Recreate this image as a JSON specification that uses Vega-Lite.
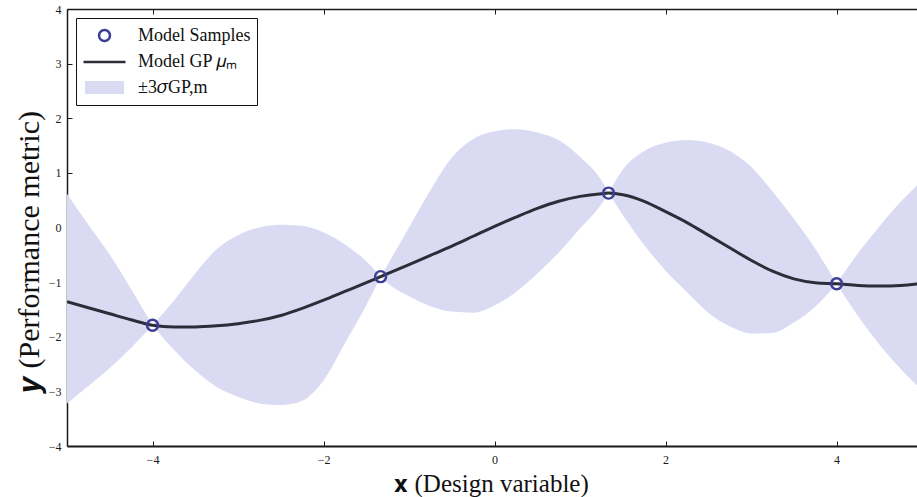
{
  "$schema": "https://vega.github.io/schema/vega-lite/v6.json",
  "width": 850,
  "height": 437,
  "autosize": {"type": "none"},
  "padding": {"left": 67, "top": 9, "right": 0, "bottom": 51},
  "background": "white",
  "datasets": {
    "band": [
      {"seg": "L", "x": -5, "lo": -3.22, "hi": 0.62},
      {"seg": "L", "x": -4.75, "lo": -2.90, "hi": 0.05},
      {"seg": "L", "x": -4.5, "lo": -2.57, "hi": -0.50},
      {"seg": "L", "x": -4.25, "lo": -2.20, "hi": -1.13},
      {"seg": "L", "x": -4, "lo": -1.79, "hi": -1.79},
      {"seg": "A", "x": -4, "lo": -1.79, "hi": -1.79},
      {"seg": "A", "x": -3.75, "lo": -2.24, "hi": -1.34},
      {"seg": "A", "x": -3.5, "lo": -2.62, "hi": -0.84},
      {"seg": "A", "x": -3.25, "lo": -2.92, "hi": -0.40},
      {"seg": "A", "x": -3, "lo": -3.10, "hi": -0.14},
      {"seg": "A", "x": -2.75, "lo": -3.22, "hi": 0.00},
      {"seg": "A", "x": -2.5, "lo": -3.25, "hi": 0.05},
      {"seg": "A", "x": -2.25, "lo": -3.17, "hi": 0.03},
      {"seg": "A", "x": -2, "lo": -2.80, "hi": -0.09},
      {"seg": "A", "x": -1.75, "lo": -2.12, "hi": -0.31},
      {"seg": "A", "x": -1.5, "lo": -1.42, "hi": -0.62},
      {"seg": "A", "x": -1.333, "lo": -0.90, "hi": -0.90},
      {"seg": "B", "x": -1.333, "lo": -0.90, "hi": -0.90},
      {"seg": "B", "x": -1.25, "lo": -1.02, "hi": -0.68},
      {"seg": "B", "x": -1, "lo": -1.26, "hi": 0.00},
      {"seg": "B", "x": -0.75, "lo": -1.44, "hi": 0.68},
      {"seg": "B", "x": -0.5, "lo": -1.54, "hi": 1.28},
      {"seg": "B", "x": -0.25, "lo": -1.56, "hi": 1.62},
      {"seg": "B", "x": 0, "lo": -1.43, "hi": 1.76},
      {"seg": "B", "x": 0.25, "lo": -1.18, "hi": 1.80},
      {"seg": "B", "x": 0.5, "lo": -0.84, "hi": 1.74},
      {"seg": "B", "x": 0.75, "lo": -0.46, "hi": 1.60},
      {"seg": "B", "x": 1, "lo": -0.02, "hi": 1.29},
      {"seg": "B", "x": 1.25, "lo": 0.43, "hi": 0.86},
      {"seg": "B", "x": 1.333, "lo": 0.63, "hi": 0.63},
      {"seg": "C", "x": 1.333, "lo": 0.63, "hi": 0.63},
      {"seg": "C", "x": 1.5, "lo": 0.23, "hi": 1.06},
      {"seg": "C", "x": 1.75, "lo": -0.32, "hi": 1.40},
      {"seg": "C", "x": 2, "lo": -0.79, "hi": 1.55},
      {"seg": "C", "x": 2.25, "lo": -1.18, "hi": 1.60},
      {"seg": "C", "x": 2.5, "lo": -1.56, "hi": 1.55},
      {"seg": "C", "x": 2.75, "lo": -1.81, "hi": 1.40},
      {"seg": "C", "x": 3, "lo": -1.94, "hi": 1.11},
      {"seg": "C", "x": 3.25, "lo": -1.93, "hi": 0.66},
      {"seg": "C", "x": 3.5, "lo": -1.74, "hi": 0.16},
      {"seg": "C", "x": 3.75, "lo": -1.45, "hi": -0.39},
      {"seg": "C", "x": 4, "lo": -1.03, "hi": -1.03},
      {"seg": "R", "x": 4, "lo": -1.03, "hi": -1.03},
      {"seg": "R", "x": 4.25, "lo": -1.62, "hi": -0.47},
      {"seg": "R", "x": 4.5, "lo": -2.14, "hi": 0.02},
      {"seg": "R", "x": 4.75, "lo": -2.59, "hi": 0.47},
      {"seg": "R", "x": 4.96, "lo": -2.92, "hi": 0.80}
    ],
    "mean": [
      {"x": -5, "y": -1.36},
      {"x": -4.75, "y": -1.47},
      {"x": -4.5, "y": -1.58},
      {"x": -4.25, "y": -1.69},
      {"x": -4, "y": -1.79},
      {"x": -3.75, "y": -1.82},
      {"x": -3.5, "y": -1.82},
      {"x": -3.25, "y": -1.80},
      {"x": -3, "y": -1.76},
      {"x": -2.75, "y": -1.70},
      {"x": -2.5, "y": -1.61},
      {"x": -2.25, "y": -1.48},
      {"x": -2, "y": -1.33},
      {"x": -1.75, "y": -1.17},
      {"x": -1.5, "y": -1.01},
      {"x": -1.333, "y": -0.90},
      {"x": -1, "y": -0.68},
      {"x": -0.75, "y": -0.51},
      {"x": -0.5, "y": -0.34},
      {"x": -0.25, "y": -0.16},
      {"x": 0, "y": 0.02},
      {"x": 0.25, "y": 0.19},
      {"x": 0.5, "y": 0.35},
      {"x": 0.75, "y": 0.48},
      {"x": 1, "y": 0.57},
      {"x": 1.25, "y": 0.62},
      {"x": 1.333, "y": 0.63},
      {"x": 1.5, "y": 0.60},
      {"x": 1.75, "y": 0.48},
      {"x": 2, "y": 0.29},
      {"x": 2.25, "y": 0.09},
      {"x": 2.5, "y": -0.14},
      {"x": 2.75, "y": -0.37},
      {"x": 3, "y": -0.60},
      {"x": 3.25, "y": -0.80},
      {"x": 3.5, "y": -0.94},
      {"x": 3.75, "y": -1.01},
      {"x": 4, "y": -1.03},
      {"x": 4.25, "y": -1.06},
      {"x": 4.5, "y": -1.07},
      {"x": 4.75, "y": -1.06},
      {"x": 4.96, "y": -1.03}
    ],
    "samples": [
      {"x": -4, "y": -1.79},
      {"x": -1.333, "y": -0.90},
      {"x": 1.333, "y": 0.63},
      {"x": 4, "y": -1.03}
    ]
  },
  "layer": [
    {
      "data": {"name": "band"},
      "mark": {"type": "area", "interpolate": "monotone", "clip": true, "opacity": 1},
      "encoding": {
        "x": {
          "field": "x", "type": "quantitative",
          "scale": {"domain": [-5, 4.94], "nice": false, "zero": false},
          "axis": {"orient": "bottom", "values": [-4, -2, 0, 2, 4], "title": "𝐱 (Design variable)", "titleFontSize": 25, "titleX": 424, "titleY": 37, "titleBaseline": "middle", "titleAlign": "center", "labelPadding": 13, "domainWidth": 2}
        },
        "y": {
          "field": "lo", "type": "quantitative",
          "scale": {"domain": [-4, 4], "nice": false, "zero": false},
          "axis": {"orient": "left", "values": [-4, -3, -2, -1, 0, 1, 2, 3, 4], "title": "𝒚 (Performance metric)", "titleFontSize": 30, "titleX": -38, "titleY": 243, "titleBaseline": "middle", "titleAlign": "center", "titleAngle": 270, "labelPadding": 11}
        },
        "y2": {"field": "hi"},
        "detail": {"field": "seg"},
        "fill": {
          "datum": "±3𝜎GP,m",
          "scale": {"domain": ["Model Samples", "Model GP 𝜇ₘ", "±3𝜎GP,m"], "range": ["transparent", "transparent", "#dadaf3"]},
          "legend": {"title": null}
        }
      }
    },
    {
      "data": {"name": "mean"},
      "mark": {"type": "line", "interpolate": "monotone", "clip": true, "strokeWidth": 3},
      "encoding": {
        "x": {"field": "x", "type": "quantitative", "axis": null},
        "y": {"field": "y", "type": "quantitative", "axis": {"title": "𝒚 (Performance metric)"}},
        "stroke": {
          "datum": "Model GP 𝜇ₘ",
          "scale": {"domain": ["Model Samples", "Model GP 𝜇ₘ", "±3𝜎GP,m"], "range": ["#3b3d94", "#2b2d38", "transparent"]},
          "legend": {"title": null}
        }
      }
    },
    {
      "data": {"name": "samples"},
      "mark": {"type": "point", "filled": false, "size": 400, "strokeWidth": 2.4, "opacity": 1},
      "encoding": {
        "x": {"field": "x", "type": "quantitative", "axis": {"orient": "top", "values": [-4, -2, 0, 2, 4], "labels": false, "title": null}},
        "y": {"field": "y", "type": "quantitative", "axis": {"title": "𝒚 (Performance metric)"}},
        "stroke": {"datum": "Model Samples", "legend": {"title": null}},
        "shape": {
          "datum": "Model Samples",
          "scale": {"domain": ["Model Samples", "Model GP 𝜇ₘ", "±3𝜎GP,m"], "range": ["M0.55,0A0.55,0.55,0,1,1,-0.55,0A0.55,0.55,0,1,1,0.55,0Z", "M-2.1,0L2.1,0", "M-1.95,-0.65L1.95,-0.65L1.95,0.65L-1.95,0.65Z"]},
          "legend": {"title": null}
        }
      }
    }
  ],
  "resolve": {"axis": {"x": "independent"}},
  "config": {
    "view": {"stroke": null},
    "axis": {
      "domainColor": "#1a1a1a", "domainWidth": 1.5, "tickColor": "#1a1a1a", "tickSize": -5, "tickWidth": 1,
      "labelFont": "Liberation Serif", "labelFontSize": 12, "labelColor": "#1a1a1a",
      "grid": false, "titleFont": "Liberation Serif", "titleColor": "#111", "titleFontWeight": "normal", "zindex": 1
    },
    "legend": {
      "orient": "top-left", "offset": 9, "padding": 6,
      "fillColor": "white", "strokeColor": "#111", "cornerRadius": 0,
      "symbolSize": 400, "symbolStrokeWidth": 2.5, "symbolOpacity": 1, "symbolOffset": 11,
      "labelFont": "Liberation Serif", "labelFontSize": 18, "labelColor": "#111",
      "labelOffset": 22, "rowPadding": 4.5, "labelLimit": 300
    }
  }
}
